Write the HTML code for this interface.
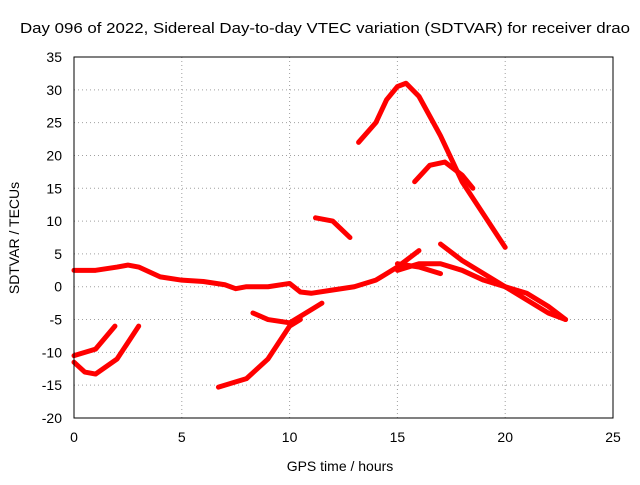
<!DOCTYPE html>
<html><head><meta charset="utf-8"><style>
body{margin:0;background:#fff;font-family:"Liberation Sans",sans-serif}
svg text{font-family:"Liberation Sans",sans-serif;font-size:14px;fill:#000}
</style></head><body>
<svg id="c" width="640" height="480">
<text x="20" y="33" textLength="610" lengthAdjust="spacingAndGlyphs" style="font-size:15px">Day 096 of 2022, Sidereal Day-to-day VTEC variation (SDTVAR) for receiver drao</text>
<text x="340" y="471" text-anchor="middle">GPS time / hours</text>
<text transform="translate(19,238) rotate(-90)" text-anchor="middle">SDTVAR / TECUs</text>
<g id="grid"></g><g id="series"></g>
<rect x="74" y="57" width="539" height="361" fill="none" stroke="#000"/>
</svg>
<script>
const xTicks=[0,5,10,15,20,25];
const yTicks=[-20,-15,-10,-5,0,5,10,15,20,25,30,35];
const s1x=[0,1,2,2.5,3,4,5,6,7,7.5,8,9,10,10.5,11,12,13,14,15,16];
const s1y=[2.5,2.5,3,3.3,3,1.5,1,0.8,0.3,-0.3,0,0,0.5,-0.8,-1,-0.5,0,1,3,5.5];
const s2x=[15,16,17,18,19,20,21,22,22.8];
const s2y=[2.5,3.5,3.5,2.5,1,0,-1,-3,-5];
const s3x=[13.2,14,14.5,15,15.4,16,17,18,19,20];
const s3y=[22,25,28.5,30.5,31,29,23,16,11,6];
const s4x=[15.8,16.5,17.2,18,18.5];
const s4y=[16,18.5,19,17,15];
const s5x=[11.2,12,12.8];
const s5y=[10.5,10,7.5];
const s6x=[17,18,19,20,21,22,22.8];
const s6y=[6.5,4,2,0,-2,-4,-5];
const s7x=[0,1,1.9];
const s7y=[-10.5,-9.5,-6];
const s8x=[0,0.5,1,2,3];
const s8y=[-11.5,-13,-13.3,-11,-6];
const s9x=[6.7,7.5,8,9,10,10.5];
const s9y=[-15.3,-14.5,-14,-11,-6,-5];
const s10x=[8.3,9,10,11,11.5];
const s10y=[-4,-5,-5.5,-3.5,-2.5];
const s11x=[15,16,17];
const s11y=[3.5,3,2];
const NS="http://www.w3.org/2000/svg";
const X=v=>74+v*539/25, Y=v=>57+(35-v)*361/55;
const g=document.getElementById('grid');
xTicks.forEach(t=>{
 const l=document.createElementNS(NS,'line');
 
 
 l.setAttribute('x1',X(t));l.setAttribute('x2',X(t));l.setAttribute('y1',57);l.setAttribute('y2',418);
 l.setAttribute('stroke','#a0a0a0');l.setAttribute('stroke-dasharray','1,3');g.appendChild(l);
 const tx=document.createElementNS(NS,'text');
 
 
 tx.setAttribute('x',X(t));tx.setAttribute('y',442);tx.setAttribute('text-anchor','middle');tx.textContent=t;g.appendChild(tx);
});
yTicks.forEach(t=>{
 const l=document.createElementNS(NS,'line');
 
 
 l.setAttribute('x1',74);l.setAttribute('x2',613);l.setAttribute('y1',Y(t));l.setAttribute('y2',Y(t));
 l.setAttribute('stroke','#a0a0a0');l.setAttribute('stroke-dasharray','1,3');g.appendChild(l);
 const tx=document.createElementNS(NS,'text');
 
 
 tx.setAttribute('x',62);tx.setAttribute('y',Y(t)+5);tx.setAttribute('text-anchor','end');tx.textContent=t;g.appendChild(tx);
});
const S=document.getElementById('series');
[[s1x,s1y],[s2x,s2y],[s3x,s3y],[s4x,s4y],[s5x,s5y],[s6x,s6y],[s7x,s7y],[s8x,s8y],[s9x,s9y],[s10x,s10y],[s11x,s11y]].forEach(([xs,ys])=>{
 const p=document.createElementNS(NS,'polyline');
 
 
 p.setAttribute('points',xs.map((x,i)=>X(x)+','+Y(ys[i])).join(' '));
 p.setAttribute('fill','none');p.setAttribute('stroke','#f00');p.setAttribute('stroke-width','5');
 p.setAttribute('stroke-linejoin','round');p.setAttribute('stroke-linecap','round');
 S.appendChild(p);
});
</script>
</body></html>
